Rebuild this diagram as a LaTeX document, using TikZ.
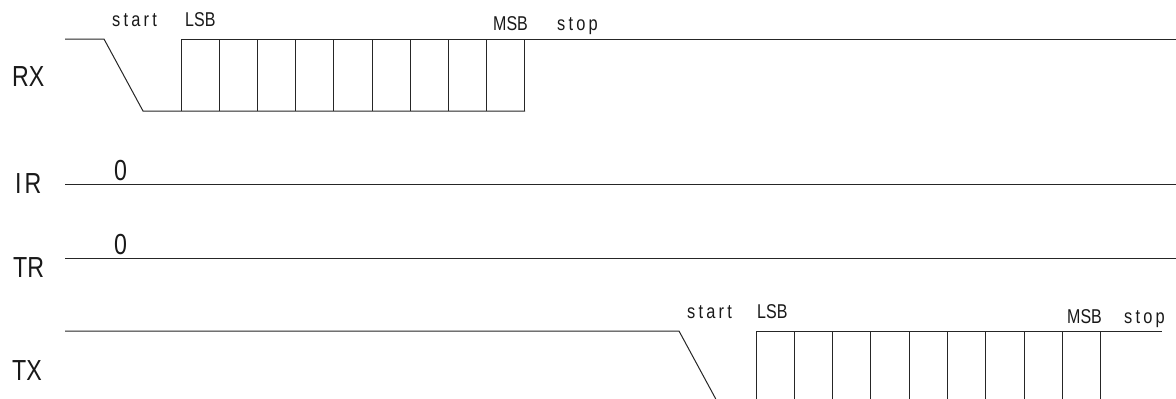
\documentclass[tikz,border=0pt]{standalone}
\usepackage{fontspec}
\setmainfont{Liberation Sans}
\newfontfamily\narrowfont[FakeStretch=0.8]{Liberation Sans}
\newfontfamily\spacedfont[FakeStretch=0.82,LetterSpace=16]{Liberation Sans}
\begin{document}
\begin{tikzpicture}[x=1pt,y=-1pt,
  sig/.style={line width=1pt, black!85},
  biglab/.style={font=\narrowfont\fontsize{29}{29}\selectfont, anchor=base west, inner sep=0pt, text=black!90},
  smalllab/.style={font=\narrowfont\fontsize{20}{20}\selectfont, anchor=base west, inner sep=0pt, text=black!90},
  spacedlab/.style={font=\spacedfont\fontsize{20}{20}\selectfont, anchor=base west, inner sep=0pt, text=black!90}]
\useasboundingbox[fill=white] (0,0) rectangle (1176,399);

% ---------- RX ----------
\node[biglab] (rxl) at (12,86) {RX};
\coordinate (rxa) at (65,39);
\coordinate (rxb) at (104,39);
\coordinate (rxc) at (143,111);
\coordinate (rxd) at (525,111);
\coordinate (rxe) at (181,39);
\coordinate (rxf) at (1176,39);
\draw[sig] (rxa) -- (rxb) -- (rxc) -- (rxd);
\draw[sig] (rxe) -- (rxf);
\foreach \i in {0,...,9} {
  \coordinate (rxv\i) at ({181+\i*38.22},39);
  \coordinate (rxw\i) at ({181+\i*38.22},111);
  \draw[sig] (rxv\i) -- (rxw\i);
}
\node[spacedlab] (rxs) at (112,26) {start};
\node[smalllab] (rxlsb) at (185,26) {LSB};
\node[smalllab] (rxmsb) at (493,30) {MSB};
\node[spacedlab] (rxstop) at (557,30) {stop};

% ---------- IR ----------
\node[biglab] (irl) at (15,193) {I\hspace{3pt}R};
\coordinate (ira) at (65,184);
\coordinate (irb) at (1176,184);
\draw[sig] (ira) -- (irb);
\node[biglab] (ir0) at (114,180) {0};

% ---------- TR ----------
\node[biglab] (trl) at (13,277) {TR};
\coordinate (tra) at (65,258);
\coordinate (trb) at (1176,258);
\draw[sig] (tra) -- (trb);
\node[biglab] (tr0) at (114,254) {0};

% ---------- TX ----------
\node[biglab] (txl) at (12,380) {TX};
\coordinate (txa) at (65,331);
\coordinate (txb) at (679,331);
\coordinate (txc) at (715.8,399);
\coordinate (txe) at (756,331);
\coordinate (txf) at (1162,331);
\draw[sig] (txa) -- (txb) -- (txc);
\draw[sig] (txe) -- (txf);
\foreach \i in {0,...,9} {
  \coordinate (txv\i) at ({756+\i*38.33},331);
  \coordinate (txw\i) at ({756+\i*38.33},399);
  \draw[sig] (txv\i) -- (txw\i);
}
\node[spacedlab] (txs) at (687,318) {start};
\node[smalllab] (txlsb) at (757,318) {LSB};
\node[smalllab] (txmsb) at (1067,323) {MSB};
\node[spacedlab] (txstop) at (1124,323) {stop};
\end{tikzpicture}
\end{document}
